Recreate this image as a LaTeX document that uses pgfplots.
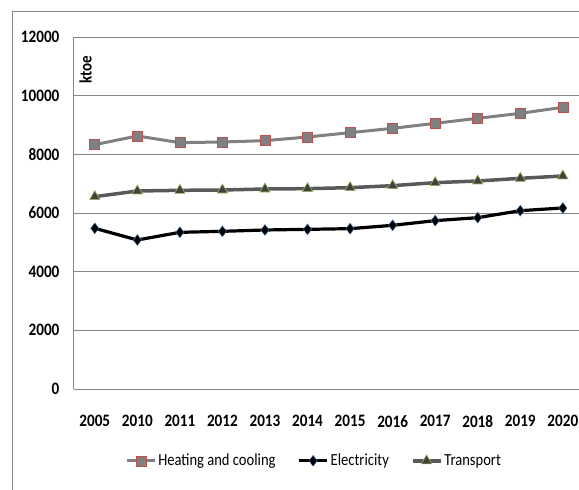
\documentclass[border=0pt]{standalone}
\usepackage{pgfplots}
\pgfplotsset{compat=1.18}
\usepackage{graphicx}
\usepackage{fontspec}
\setmainfont{Carlito}

\definecolor{gridgray}{RGB}{134,134,134}
\definecolor{heatline}{RGB}{128,128,128}
\definecolor{heatedge}{RGB}{192,80,77}
\definecolor{transline}{RGB}{89,89,89}
\definecolor{transmark}{RGB}{64,64,64}
\definecolor{transedge}{RGB}{155,187,89}
\definecolor{elecedge}{RGB}{79,129,189}

\newcommand{\narrow}[1]{\scalebox{0.86}[1]{#1}}

\pgfplotstableread{
idx value
0 8330
1 8626
2 8398
3 8421
4 8466
5 8591
6 8739
7 8886
8 9057
9 9228
10 9398
11 9603
}\heating

\pgfplotstableread{
idx value
0 5478
1 5080
2 5341
3 5375
4 5421
5 5443
6 5466
7 5580
8 5739
9 5841
10 6079
11 6171
}\electricity

\pgfplotstableread{
idx value
0 6557
1 6750
2 6773
3 6784
4 6818
5 6830
6 6864
7 6932
8 7034
9 7091
10 7182
11 7262
}\transport

\begin{document}
\begin{tikzpicture}
\useasboundingbox (0bp,0bp) rectangle (579bp,490bp);
% outer chart frame (left and top edges visible)
\draw[gridgray, line width=0.8bp] (12bp,0bp) -- (12bp,479bp) -- (579bp,479bp);
\begin{axis}[
    at={(73.5bp,101bp)}, anchor=south west,
    scale only axis,
    width=505.5bp, height=352bp,
    xmin=-0.5, xmax=11.38,
    ymin=0, ymax=12000,
    scaled y ticks=false,
    xtick={0,...,11},
    xticklabels={2005,2010,2011,2012,2013,2014,2015,2016,2017,2018,2019,2020},
    ytick={0,2000,...,12000},
    axis x line=bottom, axis y line=left,
    axis line style={gridgray, line width=0.8bp, -},
    ymajorgrids, grid style={gridgray, line width=0.8bp},
    major tick length=0pt,
    tick label style={font=\fontsize{17.5}{20}\selectfont\bfseries, xscale=0.87},
    /pgf/number format/assume math mode=true,
    /pgf/number format/1000 sep={},
    yticklabel style={inner sep=0pt, anchor=east, xshift=-16bp},
    xticklabel style={inner sep=0pt, anchor=north, yshift=-26bp},
    legend style={at={(rel axis cs:0.476,-0.204)}, anchor=center, draw=none,
        font=\fontsize{17}{19}\selectfont, legend columns=3,
        /tikz/every even column/.append style={column sep=20bp},
        inner sep=0pt},
    legend image code/.code={
        \draw[mark repeat=2, mark phase=2] plot coordinates {(0bp,0bp) (14bp,0bp) (28bp,0bp)};
    },
    clip=false,
]
\addplot[heatline, line width=3bp, mark=square*,
    mark options={fill=heatline, draw=heatedge, line width=0.6bp, mark size=5bp}]
    table[x=idx, y=value] {\heating};
\addlegendentry{\narrow{Heating and cooling}}
\addplot[black, line width=3.2bp, mark=diamond*,
    mark options={fill=black, draw=elecedge, line width=0.4bp, mark size=5.5bp}]
    table[x=idx, y=value] {\electricity};
\addlegendentry{\narrow{Electricity}}
\addplot[transline, line width=3.5bp, mark=triangle*,
    mark options={fill=transmark, draw=transedge, line width=0.6bp, mark size=6bp}]
    table[x=idx, y=value] {\transport};
\addlegendentry{\narrow{Transport}}
\node[rotate=90, font=\fontsize{17.5}{20}\selectfont\bfseries, inner sep=0pt]
    at (rel axis cs:0.024,0.906) {\narrow{ktoe}};
\end{axis}
\end{tikzpicture}
\end{document}
